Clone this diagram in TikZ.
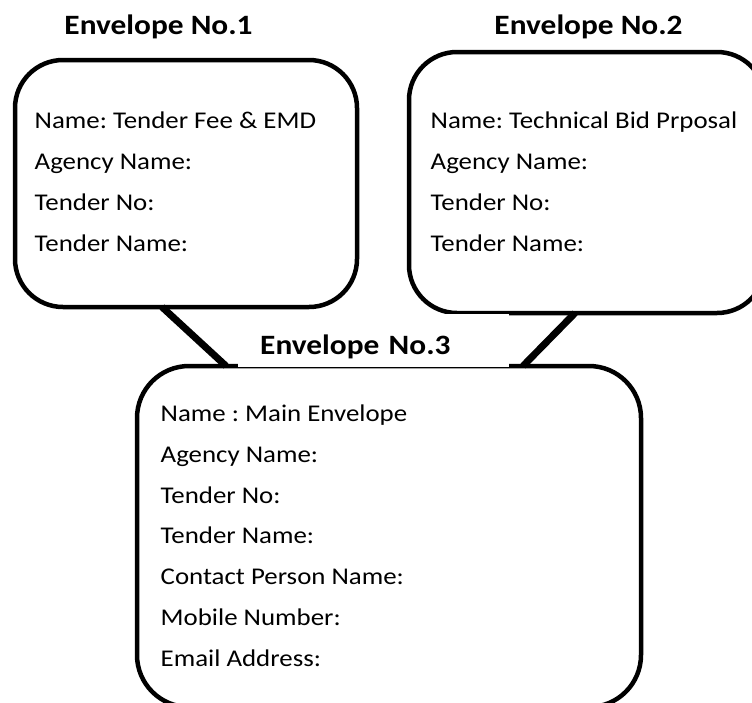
\documentclass[tikz,border=0pt]{standalone}
\usepackage{fontspec}
\setmainfont{Carlito}[FakeStretch=1.12]
\usetikzlibrary{positioning}
\frenchspacing

\tikzset{
	envbox/.style={draw, line width=4.5pt, rounded corners=48pt, inner sep=0pt, outer sep=0pt},
	envtitle/.style={font=\bfseries\fontsize{28}{30}\selectfont, inner sep=0pt},
	fields/.style={align=left, font=\fontsize{24}{40.7}\selectfont, inner sep=0pt, anchor=base west},
	link/.style={line width=7pt},
}

\begin{document}
\begin{tikzpicture}[x=1pt, y=-1pt]
	\useasboundingbox (0,0) rectangle (752,702);
	\clip (0,0) rectangle (752,702);

	%% ENVELOPE BOXES
	\node[envbox, minimum width=342pt, minimum height=247pt] (env_fee) at (186,183.5) {};
	\node[envbox, minimum width=356pt, minimum height=261pt] (env_tech) at (587,182.5) {};
	\node[envbox, minimum width=504pt, minimum height=341pt, rounded corners=52pt] (env_main) at (389,536.5) {};

	% titles
	\node[envtitle, anchor=base] (title_fee) at (158.5,34) {Envelope No.1};
	\node[envtitle, anchor=base] (title_tech) at (588.5,34) {Envelope No.2};

	%% FIELDS (anchored on the last line)
	\node[fields] (fields_fee) at (34.5,251) {Name: Tender Fee \& EMD\\Agency Name:\\Tender No:\\Tender Name:};
	\node[fields] (fields_tech) at (430.5,251) {Name: Technical Bid Prposal\\Agency Name:\\Tender No:\\Tender Name:};
	\node[fields] (fields_main) at (160.5,666) {Name : Main Envelope\\Agency Name:\\Tender No:\\Tender Name:\\Contact Person Name:\\Mobile Number:\\Email Address:};

	%% LINKS
	\draw[link] ([xshift=147pt]env_fee.south west) -- ([xshift=89pt]env_main.north west);
	\draw[link] ([xshift=166pt]env_tech.south west) -- ([xshift=-118pt]env_main.north east);

	% main title sits on the top border
	\node[envtitle, fill=white, anchor=south west, inner xsep=22pt, text width=227pt, align=left,
		text height=40.5pt, text depth=11.7pt] (title_main) at (238,366.7) {Envelope No.3};
\end{tikzpicture}
\end{document}
